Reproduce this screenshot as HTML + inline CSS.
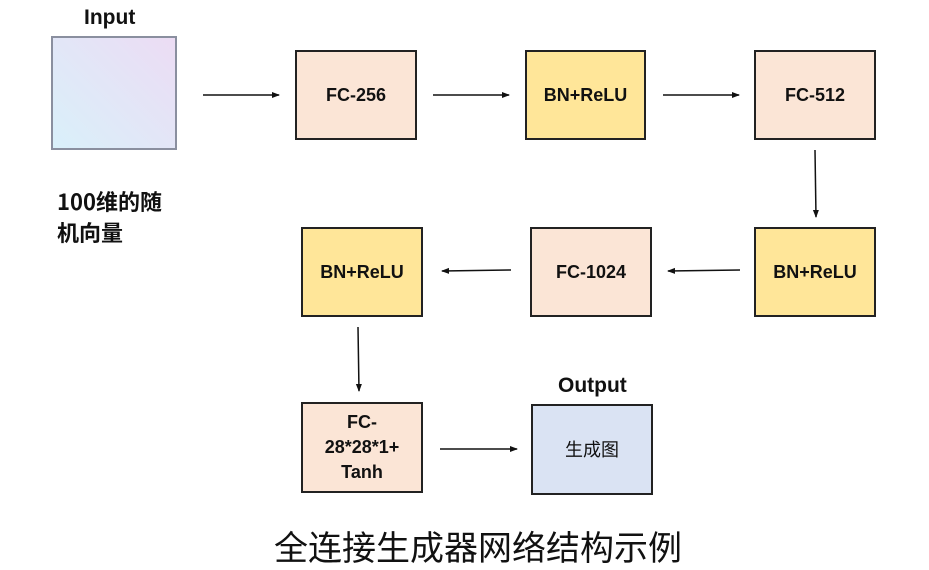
<!DOCTYPE html>
<html><head><meta charset="utf-8"><style>
body{margin:0;width:929px;height:568px;background:#fff;position:relative;overflow:hidden;font-family:"Liberation Sans","Noto Sans CJK SC",sans-serif}
.b{position:absolute;box-sizing:border-box;border:2px solid #222;display:flex;align-items:center;justify-content:center;text-align:center;font-weight:bold;font-size:18px;color:#111;line-height:25px}
.fc{background:#fbe5d6}.bn{background:#ffe699}
.t{position:absolute;font-weight:bold;font-size:21px;color:#111}
</style></head><body>
<div class="t" style="left:84px;top:6px">Input</div>
<div class="b" style="left:51px;top:36px;width:126px;height:114px;border:2px solid #8a8f9f;background:linear-gradient(45deg,#d9f0fa,#ecdcf4)"></div>
<div class="t" style="left:57px;top:186px;font-size:22px;line-height:31px;font-family:'Noto Sans CJK SC',sans-serif">100维的随<br>机向量</div>
<div class="b fc" style="left:295px;top:50px;width:122px;height:90px">FC-256</div>
<div class="b bn" style="left:525px;top:50px;width:121px;height:90px">BN+ReLU</div>
<div class="b fc" style="left:754px;top:50px;width:122px;height:90px">FC-512</div>
<div class="b bn" style="left:301px;top:227px;width:122px;height:90px">BN+ReLU</div>
<div class="b fc" style="left:530px;top:227px;width:122px;height:90px">FC-1024</div>
<div class="b bn" style="left:754px;top:227px;width:122px;height:90px">BN+ReLU</div>
<div class="b fc" style="left:301px;top:402px;width:122px;height:91px">FC-<br>28*28*1+<br>Tanh</div>
<div class="t" style="left:558px;top:374px">Output</div>
<div class="b" style="left:531px;top:404px;width:122px;height:91px;background:#dae3f3;font-weight:normal;font-family:'Noto Sans CJK SC',sans-serif">生成图</div>
<svg width="929" height="568" style="position:absolute;left:0;top:0">
<defs><marker id="a" markerWidth="8" markerHeight="8" refX="7" refY="4" orient="auto" markerUnits="userSpaceOnUse"><path d="M0,1 L8,4 L0,7z" fill="#111"/></marker></defs>
<g stroke="#111" stroke-width="1.5" marker-end="url(#a)">
<line x1="203" y1="95" x2="279" y2="95"/>
<line x1="433" y1="95" x2="509" y2="95"/>
<line x1="663" y1="95" x2="739" y2="95"/>
<line x1="815" y1="150" x2="816" y2="217"/>
<line x1="740" y1="270" x2="668" y2="271"/>
<line x1="511" y1="270" x2="442" y2="271"/>
<line x1="358" y1="327" x2="359" y2="391"/>
<line x1="440" y1="449" x2="517" y2="449"/>
</g></svg>
<div style="position:absolute;left:274px;top:524px;font-size:34px;line-height:44px;font-family:'Noto Sans CJK SC',sans-serif;color:#111">全连接生成器网络结构示例</div>
</body></html>
